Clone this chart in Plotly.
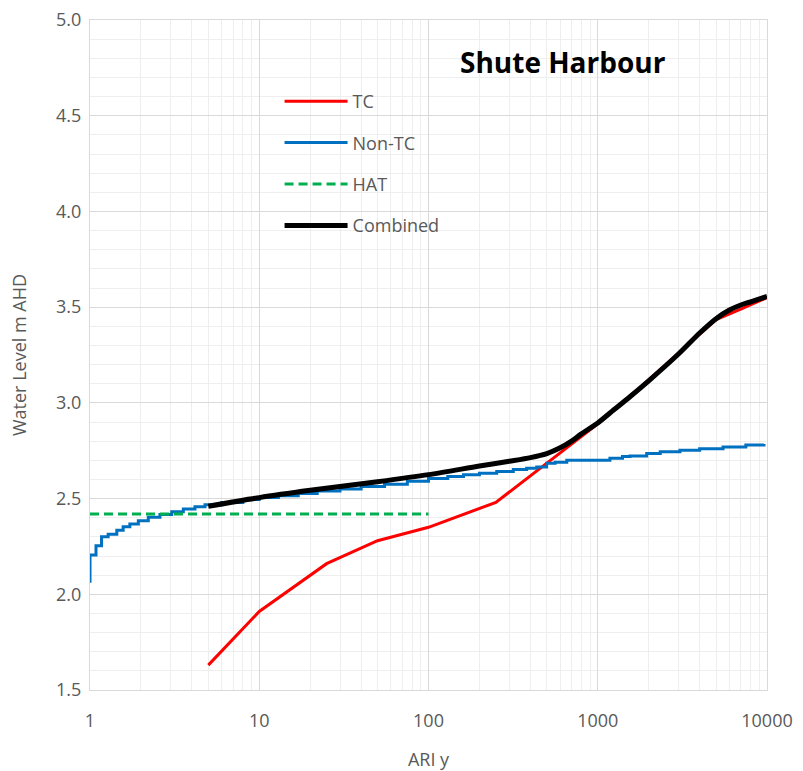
import plotly.graph_objects as go

# ---- data ----
ari_tc = [5, 10, 25, 50, 100, 250, 1000, 2000, 3000, 4000, 5000, 7000, 10000]
wl_tc = [1.63, 1.91, 2.16, 2.28, 2.35, 2.48, 2.89, 3.12, 3.26, 3.36, 3.435, 3.49, 3.55]

ari_nontc = [1, 1, 1.085, 1.17, 1.28, 1.44, 1.57, 1.72, 1.93, 2.21, 2.59, 3.04, 3.56, 4.17,
             4.78, 6, 8, 10, 13, 17, 22, 30, 40, 55, 75, 100, 130, 161, 200, 253, 317,
             380, 436, 499, 560, 656, 1180, 1400, 1550, 1946, 2340, 3060, 4000, 5500,
             7500, 9600]
wl_nontc = [2.06, 2.205, 2.253, 2.30, 2.313, 2.335, 2.353, 2.367, 2.384, 2.402, 2.417, 2.431,
            2.445, 2.457, 2.468, 2.48, 2.495, 2.505, 2.515, 2.527, 2.54, 2.55, 2.563, 2.575,
            2.59, 2.605, 2.615, 2.625, 2.632, 2.642, 2.652, 2.658, 2.665, 2.684, 2.69, 2.70,
            2.71, 2.72, 2.722, 2.735, 2.745, 2.753, 2.76, 2.77, 2.78, 2.785]

ari_hat = [1, 100]
wl_hat = [2.42, 2.42]

ari_comb = [5, 10, 20, 50, 100, 200, 300, 400, 500, 600, 700, 800, 1000, 1250, 1550, 2000,
            3000, 4000, 5000, 6000, 7000, 8000, 10000]
wl_comb = [2.46, 2.505, 2.543, 2.588, 2.625, 2.67, 2.695, 2.714, 2.735, 2.765, 2.80, 2.838,
           2.895, 2.965, 3.032, 3.115, 3.255, 3.365, 3.44, 3.485, 3.511, 3.528, 3.556]

x_tickvals = [1, 10, 100, 1000, 10000]
x_ticktext = ["1", "10", "100", "1000", "10000"]

FONT = "Open Sans"
GRAY = "#595959"

fig = go.Figure()
fig.add_trace(go.Scatter(x=ari_tc, y=wl_tc, name="TC", mode="lines",
                         line=dict(color="#FF0000", width=3), legendgroup="a"))
fig.add_trace(go.Scatter(x=ari_nontc, y=wl_nontc, name="Non-TC", mode="lines",
                         line=dict(color="#0070C0", width=3, shape="hv"), legendgroup="b"))
fig.add_trace(go.Scatter(x=ari_hat, y=wl_hat, name="HAT", mode="lines",
                         line=dict(color="#00B050", width=3, dash="9px,5px"), legendgroup="c"))
fig.add_trace(go.Scatter(x=ari_comb, y=wl_comb, name="Combined", mode="lines",
                         line=dict(color="#000000", width=5, shape="spline", smoothing=0.8),
                         legendgroup="d"))

fig.update_layout(
    width=803, height=771,
    margin=dict(l=90, r=36, t=20, b=81),
    paper_bgcolor="white", plot_bgcolor="white",
    font=dict(family=FONT, size=17, color=GRAY),
    legend=dict(x=0.28, y=0.906, xanchor="left", yanchor="top",
                bgcolor="rgba(0,0,0,0)", tracegroupgap=15,
                font=dict(size=18, color=GRAY), itemwidth=63),
    annotations=[dict(text="<b>Shute Harbour</b>", x=0.699, y=0.937, xref="paper", yref="paper",
                      xanchor="center", yanchor="middle",
                      showarrow=False, font=dict(size=28, color="black", family=FONT))],
)
fig.update_xaxes(type="log", range=[0, 4], tickvals=x_tickvals, ticktext=x_ticktext,
                 automargin=False,
                 showgrid=True, gridcolor="#d9d9d9", gridwidth=1,
                 minor=dict(dtick="D1", showgrid=True, gridcolor="#eeeeee", gridwidth=1),
                 showline=True, linecolor="#d9d9d9", mirror=True,
                 ticks="outside", ticklen=14, tickcolor="rgba(0,0,0,0)",
                 tickfont=dict(size=18, color=GRAY),
                 title=dict(text="ARI y", font=dict(size=18, color=GRAY), standoff=22),
                 zeroline=False)
fig.update_yaxes(range=[1.5, 5.0], dtick=0.5, tick0=1.5, tickformat=".1f",
                 automargin=False,
                 showgrid=True, gridcolor="#d9d9d9", gridwidth=1,
                 minor=dict(dtick=0.1, showgrid=True, gridcolor="#eeeeee", gridwidth=1),
                 showline=True, linecolor="#d9d9d9", mirror=True,
                 ticks="outside", ticklen=4, tickcolor="rgba(0,0,0,0)",
                 tickfont=dict(size=18, color=GRAY),
                 title=dict(text="Water Level m AHD", font=dict(size=18, color=GRAY), standoff=24),
                 zeroline=False)

fig.write_html("out.html")
